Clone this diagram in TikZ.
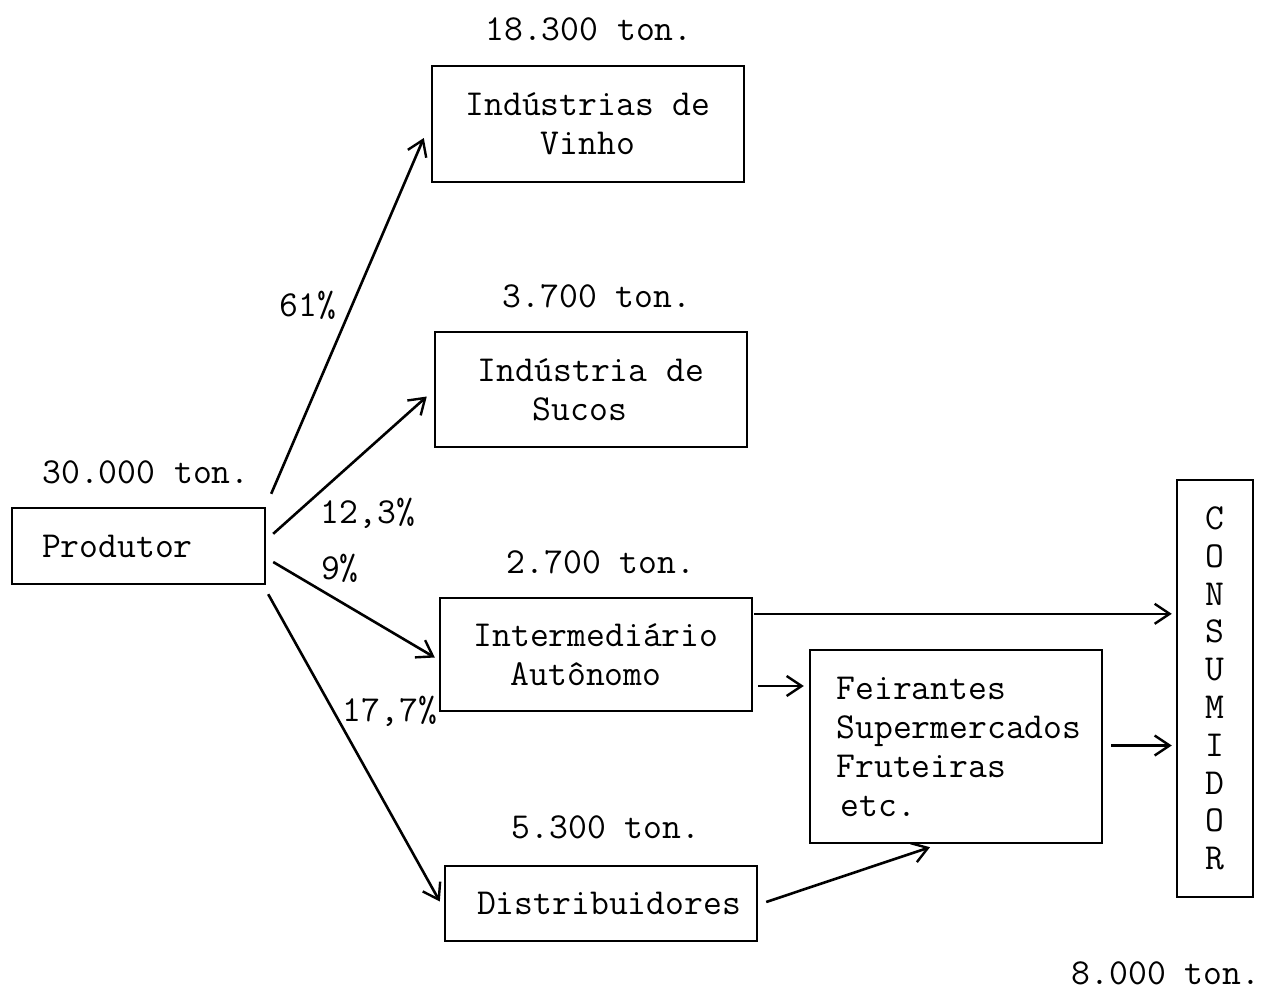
\documentclass[tikz,border=0pt]{standalone}
\usepackage{fontspec}
\usetikzlibrary{arrows.meta,calc}
\begin{document}
\begin{tikzpicture}[x=1pt,y=-1pt,
  font=\ttfamily\fontsize{36.6}{39}\selectfont,
  box/.style={draw,line width=2.4pt,inner sep=0pt,align=center},
  lbl/.style={inner sep=0pt,text height=22pt,text depth=0pt},
  arr/.style={line width=2.6pt,-{Straight Barb[length=15pt,width=20pt,line width=2.4pt]}}]
\useasboundingbox (0,0) rectangle (1267,990);

% boxes
\node[box,minimum height=76,inner xsep=30pt,text width=193pt,align=left] (prod) at (138.5,546) {Produtor};
\node[box,minimum width=312,minimum height=116] (vinho) at (588,124) {Indústrias de\\Vinho};
\node[box,minimum width=312,minimum height=115] (sucos) at (591,389.5) {Indústria de\\\hspace*{-22pt}Sucos};
\node[box,minimum width=312,minimum height=113] (inter) at (596,654.5) {Intermediário\\\hspace*{-20pt}Autônomo};
\node[box,minimum width=312,minimum height=75] (dist) at (601,903.5) {\hspace*{16pt}Distribuidores};
\node[box,minimum width=292,minimum height=193,align=left] (feir) at (956,746.5)
  {\hspace*{6pt}Feirantes\\\hspace*{6pt}Supermercados\\\hspace*{6pt}Fruteiras\\\hspace*{10pt}etc.};
\node[box,minimum width=76,minimum height=417,
  font=\ttfamily\fontsize{36.6}{37.8}\selectfont] (cons) at (1215,688.5)
  {C\\O\\N\\S\\U\\M\\I\\D\\O\\R};

% tonnages
\node[lbl] (tprod) at (146,472) {30.000 ton.};
\node[lbl] (tvinho) at (589,30) {18.300 ton.};
\node[lbl] (tsucos) at (597,296) {3.700 ton.};
\node[lbl] (tinter) at (601,562) {2.700 ton.};
\node[lbl] (tdist) at (606,827) {5.300 ton.};
\node[lbl] (tcons) at (1166,973) {8.000 ton.};

% shares
\node[lbl] (p1) at (308,305) {61\%};
\node[lbl] (p2) at (368,512) {12,3\%};
\node[lbl] (p3) at (340,568) {9\%};
\node[lbl] (p4) at (390,710) {17,7\%};

% flows out of the producer
\draw[arr] ($(prod.north east)+(5,-13)$) -- ($(vinho.west)+(-7,14)$);
\draw[arr] ($(prod.north east)+(7,27)$) -- ($(sucos.west)+(-7,7)$);
\draw[arr] ($(prod.east)+(7,16)$) -- ($(inter.west)+(-4,3)$);
\draw[arr] ($(prod.south east)+(2,9)$) -- ($(dist.west)+(-4,-2)$);

% flows towards the consumer
\coordinate (a1) at ($(inter.north east)+(1,17)$);
\draw[arr] (a1) -- ($(a1 -| cons.west)+(-4,0)$);
\coordinate (a2) at ($(inter.east)+(5,31.5)$);
\draw[arr] (a2) -- ($(a2 -| feir.west)+(-5,0)$);
\coordinate (a3) at ($(feir.east)+(8,-1)$);
\draw[arr] (a3) -- ($(a3 -| cons.west)+(-4,0)$);
\draw[arr] ($(dist.east)+(8,-1.5)$) -- ($(feir.south)+(-26,3)$);
\end{tikzpicture}
\end{document}
